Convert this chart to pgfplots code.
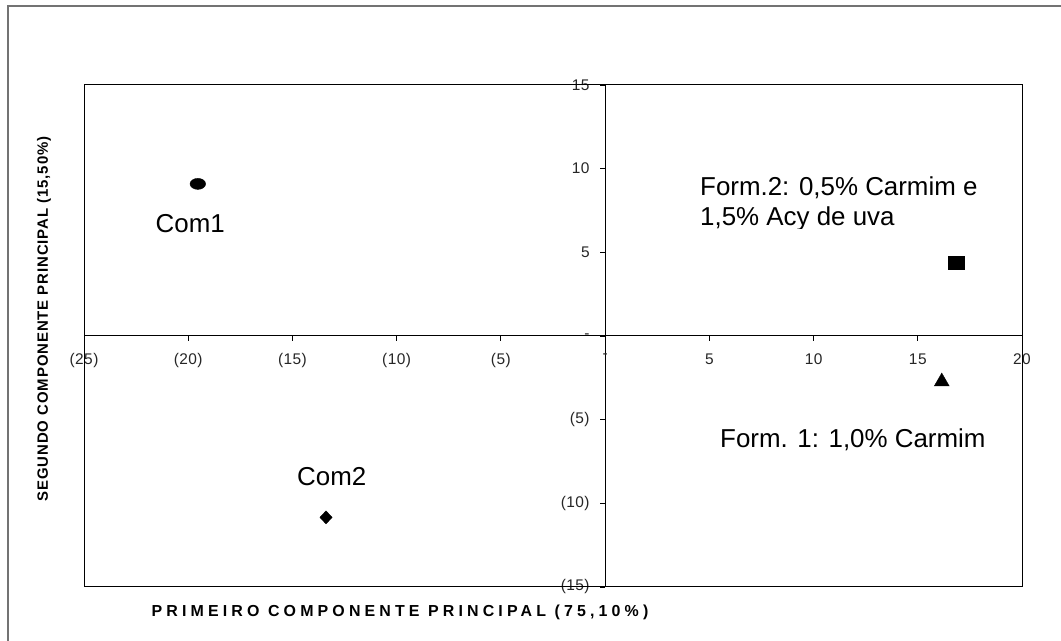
\documentclass[border=0pt]{standalone}
\usepackage{fontspec}
\setmainfont{Liberation Sans}
\newfontfamily\tickfont[LetterSpace=3]{Liberation Sans}
\newfontfamily\axfont[LetterSpace=26]{Liberation Sans}
\newfontfamily\ayfont[LetterSpace=6]{Liberation Sans}
\usepackage{pgfplots}
\pgfplotsset{compat=1.18}
\begin{document}
\begin{tikzpicture}[x=1bp,y=1bp]
\useasboundingbox (0,0) rectangle (1061,641);
\fill[white] (0,0) rectangle (1061,641);
\draw[black!55, line width=1.3bp] (8,0) -- (8,635) -- (1061,635);
\begin{axis}[
  at={(84bp,54bp)}, anchor=south west,
  scale only axis, width=938bp, height=502bp,
  xmin=-25, xmax=20, ymin=-15, ymax=15,
  axis lines=middle, axis line style={-, black, line width=1bp},
  xtick={-25,-20,...,20}, ytick={-15,-10,...,15},
  xticklabels={(25),(20),(15),(10),(5),-,5,10,15,20},
  yticklabels={(15),(10),(5),-,5,10,15},
  hide obscured x ticks=false, hide obscured y ticks=false,
  tick align=outside, major tick length=5bp,
  tick style={black, line width=0.8bp},
  tick label style={font=\tickfont\fontsize{15.5}{15.5}\selectfont, text=black!85},
  xticklabel style={anchor=north, yshift=-9bp},
  yticklabel style={anchor=east, xshift=-7bp},
  clip=false,
]
\draw[black, line width=1bp] (rel axis cs:0,0) rectangle (rel axis cs:1,1);
\addplot[only marks, mark=*, mark size=6.5bp, mark options={fill=black, draw=black, xscale=1.2, yscale=0.85}] coordinates {(-19.54,9.09)};
\addplot[only marks, mark=diamond*, mark size=6.5bp, mark options={fill=black, draw=black, xscale=1.25}] coordinates {(-13.39,-10.84)};
\addplot[only marks, mark=square*, mark size=7bp, mark options={fill=black, draw=black, xscale=1.12, yscale=0.92}] coordinates {(16.84,4.36)};
\addplot[only marks, mark=triangle*, mark size=8.6bp, mark options={fill=black, draw=black}] coordinates {(16.15,-2.73)};
\end{axis}
\begin{scope}[every node/.style={font=\fontsize{26}{30}\selectfont, inner sep=0pt, anchor=base west}]
\node at (155.5,408) {Com1};
\node at (297,155.5) {Com2};
\node at (700,445) {Form.2: 0,5\% Carmim e};
\begin{scope}
\clip (690,412) rectangle (1000,440);
\node at (700,415) {1,5\% Acy de uva};
\end{scope}
\node at (720,193) {Form. 1: 1,0\% Carmim};
\end{scope}
\node[font=\axfont\bfseries\fontsize{16}{16}\selectfont, inner sep=0pt] at (400,29) {PRIMEIRO COMPONENTE PRINCIPAL (75,10\%)};
\node[font=\ayfont\bfseries\fontsize{15}{15}\selectfont, inner sep=0pt, rotate=90] at (44,322) {SEGUNDO COMPONENTE PRINCIPAL (15,50\%)};
\end{tikzpicture}
\end{document}
